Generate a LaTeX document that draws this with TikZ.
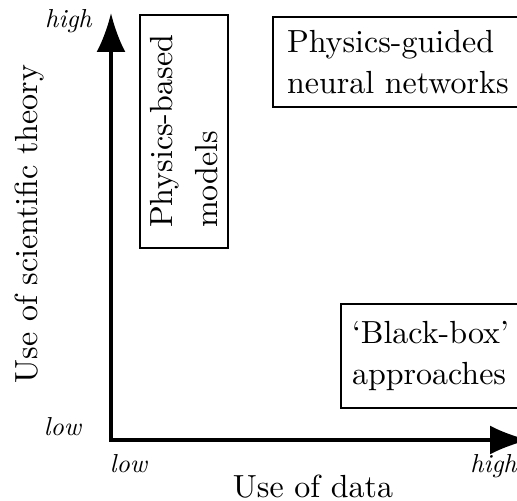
\documentclass[tikz,border=0pt]{standalone}
\usepackage{fontspec}
\setmainfont{lmroman10-regular}[Extension=.otf, ItalicFont=lmroman10-italic, BoldFont=lmroman10-bold]
\usetikzlibrary{arrows.meta}
\newcommand\mybigfont{\fontsize{16}{20.5}\selectfont}
\newcommand\mysmallfont{\fontsize{13}{15}\selectfont\itshape}
\tikzset{
  axisline/.style={line width=1.6pt, -{Latex[length=19.5pt,width=14.5pt]}, shorten <=-0.8pt},
  catbox/.style={draw, line width=1pt, font=\mybigfont, align=left},
  ticklab/.style={font=\mysmallfont, anchor=base, inner sep=0pt},
  axislab/.style={font=\mybigfont, anchor=base, inner sep=0pt}
}
\begin{document}
\begin{tikzpicture}[x=0.5pt,y=-0.5pt]
\clip (0,0) rectangle (517,501);
\coordinate (o) at (111,440);
\coordinate (ytip) at (111,13);
\coordinate (xtip) at (529,440);
\draw[axisline] (o) -- (ytip);
\draw[axisline] (o) -- (xtip);
\node[ticklab] (yhigh) at (68.5,28) {high};
\node[ticklab] (ylow) at (62.5,435) {low};
\node[ticklab] (xlow) at (128.5,472) {low};
\node[ticklab] (xhigh) at (493.5,472) {high};
\node[axislab] (xlabel) at (313,497) {Use of data};
\node[axislab, rotate=90] (ylabel) at (37,224) {Use of scientific theory};
\node[catbox, rotate=90, minimum width=116.5pt, minimum height=44pt, inner sep=0pt] (pbm) at (184,131.5) {Physics-based\\[2pt]models};
\node[catbox, anchor=north west, minimum height=45pt, inner xsep=7pt, inner ysep=0pt] (pgnn) at (272,16) {Physics-guided\\neural networks};
\node[catbox, anchor=north west, minimum height=52pt, inner xsep=5.5pt, inner ysep=0pt] (bb) at (340,303) {‘Black-box’\\approaches};
\end{tikzpicture}
\end{document}
